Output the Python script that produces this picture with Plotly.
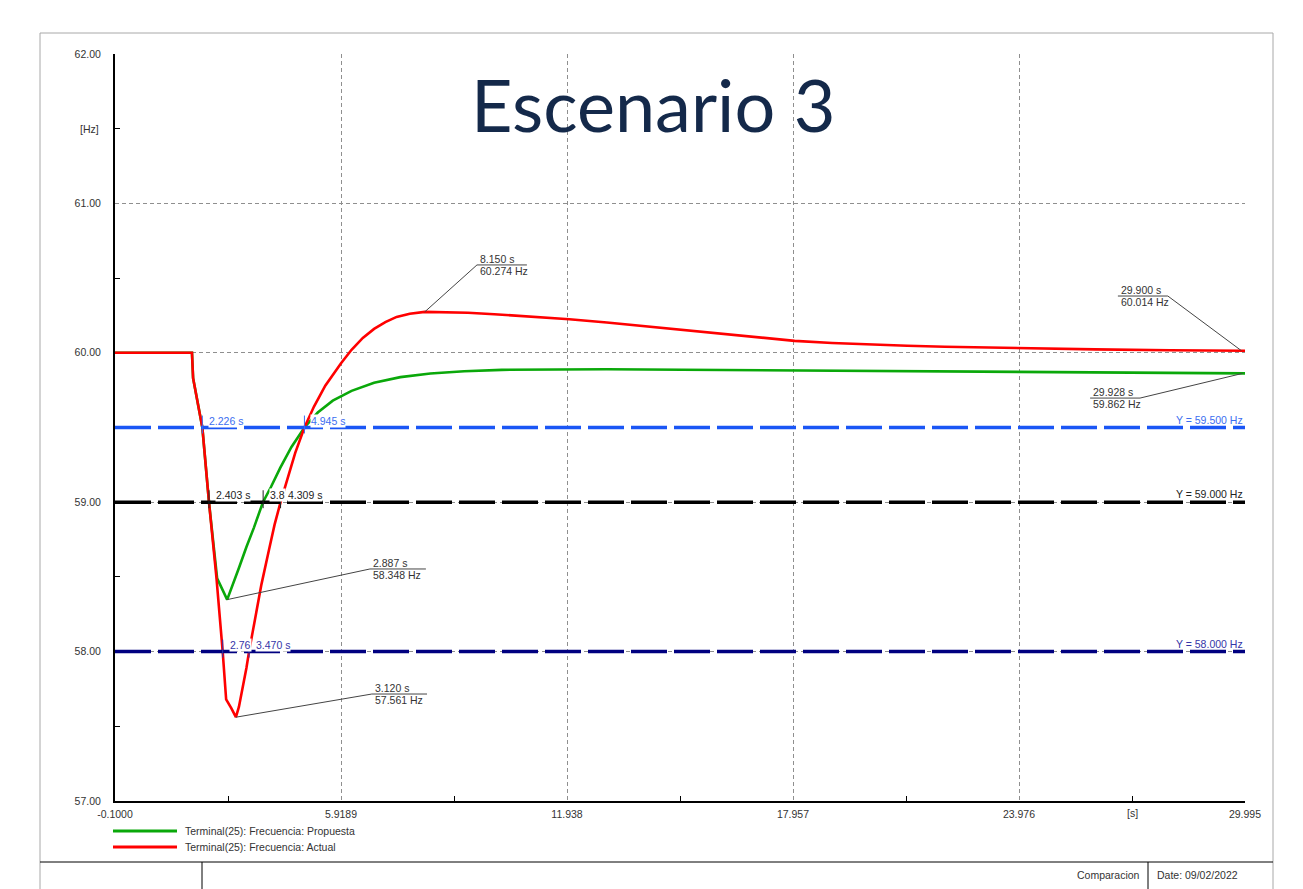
import plotly.graph_objects as go

# ---- series: Terminal(25) frequency [Hz] vs time [s] ----
t_actual = [-0.1, 1.95, 1.98, 2.226, 2.403, 2.6, 2.768, 2.86, 3.0, 3.12, 3.2, 3.3, 3.4, 3.47,
            3.6, 3.8, 4.0, 4.15, 4.309, 4.5, 4.7, 4.945, 5.2, 5.5, 5.92, 6.2, 6.5, 6.8,
            7.1, 7.4, 7.75, 8.15, 8.7, 9.3, 10.0, 11.0, 12.0, 13.0, 14.0, 15.0, 16.0, 17.0,
            18.0, 19.0, 20.0, 21.0, 22.0, 23.0, 24.0, 26.0, 28.0, 29.9, 29.995]
f_actual = [60.0, 60.0, 59.83, 59.5, 59.0, 58.5, 58.0, 57.68, 57.62, 57.561, 57.63, 57.75, 57.89, 58.0,
            58.18, 58.45, 58.68, 58.85, 59.0, 59.17, 59.33, 59.5, 59.64, 59.78, 59.93, 60.02, 60.1, 60.16,
            60.205, 60.24, 60.262, 60.274, 60.273, 60.268, 60.258, 60.244, 60.225, 60.203, 60.178, 60.153, 60.129, 60.103,
            60.08, 60.066, 60.055, 60.047, 60.04, 60.035, 60.031, 60.023, 60.017, 60.014, 60.014]

t_prop = [-0.1, 1.95, 1.98, 2.226, 2.403, 2.55, 2.62, 2.887, 3.0, 3.2, 3.4, 3.6, 3.84, 4.05,
          4.3, 4.6, 4.945, 5.3, 5.7, 6.2, 6.8, 7.5, 8.3, 9.2, 10.2, 11.5, 13.0, 15.0,
          17.0, 19.0, 21.0, 23.0, 25.0, 27.0, 29.0, 29.928, 29.995]
f_prop = [60.0, 60.0, 59.83, 59.5, 59.0, 58.65, 58.49, 58.348, 58.42, 58.56, 58.7, 58.83, 59.0, 59.1,
          59.23, 59.37, 59.5, 59.6, 59.68, 59.745, 59.8, 59.837, 59.862, 59.877, 59.886, 59.89, 59.89, 59.887,
          59.884, 59.88, 59.877, 59.873, 59.87, 59.866, 59.863, 59.862, 59.862]

# ---- axis ticks ----
x_ticks = [-0.1, 5.9189, 11.938, 17.957, 23.976, 29.995]
x_ticktext = ["-0.1000", "5.9189", "11.938", "17.957", "23.976", "29.995"]
x_minor = [2.9095, 8.9285, 14.9475, 20.9665, 26.9855]
y_ticks = [57, 58, 59, 60, 61, 62]
y_ticktext = ["57.00", "58.00", "59.00", "60.00", "61.00", "62.00"]
y_minor = [57.5, 58.5, 59.5, 60.5, 61.5]

# ---- limit lines and their crossing times ----
limits = [59.5, 59.0, 58.0]
limit_labels = ["Y = 59.500 Hz", "Y = 59.000 Hz", "Y = 58.000 Hz"]
limit_colors = ["#1a56f5", "#000000", "#000080"]
limit_text_colors = ["#3b6ef0", "#222222", "#3535a8"]
crossings = [[2.226, 4.945], [2.403, 3.845, 4.309], [2.768, 3.470]]
# characters of each crossing label left visible before the next label covers it
crossing_chars = [[None, None], [None, 3, None], [4, None]]

# ---- extreme-value labels ----
extremes_t = [8.150, 2.887, 3.120, 29.900, 29.928]
extremes_f = [60.274, 58.348, 57.561, 60.014, 59.862]
# label boxes (underline start/end time, underline level)
box_t0 = [9.54, 6.69, 6.74, 26.61, 25.87]
box_t1 = [10.87, 8.18, 8.21, 27.94, 27.20]
box_f = [60.588, 58.553, 57.716, 60.380, 59.697]
leader_from_end = [False, False, False, True, True]

FONT = "Liberation Sans, Arial, sans-serif"
TXT = "#333333"
GRID = "#8f8f8f"

fig = go.Figure()

fig.add_trace(go.Scatter(x=t_prop, y=f_prop, mode="lines",
                         line=dict(color="#0aa80a", width=2.6),
                         name="Terminal(25): Frecuencia: Propuesta", showlegend=False))
fig.add_trace(go.Scatter(x=t_actual, y=f_actual, mode="lines",
                         line=dict(color="#ff0000", width=2.6),
                         name="Terminal(25): Frecuencia: Actual", showlegend=False))

shapes = []
annotations = []

# limit lines
for lv, lab, col, tcol, cr, nch in zip(limits, limit_labels, limit_colors, limit_text_colors,
                                       crossings, crossing_chars):
    shapes.append(dict(type="line", xref="x", yref="y", x0=-0.1, x1=29.995, y0=lv, y1=lv,
                       line=dict(color=col, width=3.5, dash="36px,7px"), layer="above"))
    annotations.append(dict(x=29.995, y=lv, xref="x", yref="y", text=lab, showarrow=False,
                            xanchor="right", yanchor="bottom", yshift=0,
                            font=dict(family=FONT, size=10.5, color=tcol)))
    for tc, n in zip(cr, nch):
        shapes.append(dict(type="line", xref="x", yref="y", x0=tc, x1=tc,
                           y0=lv - 0.04, y1=lv + 0.08, line=dict(color=tcol, width=1)))
        label = f"{tc:.3f} s"
        if n is not None:
            label = label[:n]
        annotations.append(dict(x=tc, y=lv, xref="x", yref="y", text=label,
                                showarrow=False, xanchor="left", yanchor="bottom",
                                xshift=6, yshift=0, bgcolor="white", borderpad=0,
                                font=dict(family=FONT, size=10.5, color=tcol)))

# extreme-value callouts
for te, fe, b0, b1, bf, from_end in zip(extremes_t, extremes_f, box_t0, box_t1, box_f, leader_from_end):
    shapes.append(dict(type="line", xref="x", yref="y", x0=b0, x1=b1, y0=bf, y1=bf,
                       line=dict(color="#444444", width=1)))
    shapes.append(dict(type="line", xref="x", yref="y", x0=b1 if from_end else b0, y0=bf,
                       x1=te, y1=fe, line=dict(color="#444444", width=1)))
    annotations.append(dict(x=b0, y=bf, xref="x", yref="y", text=f"{te:.3f} s", showarrow=False,
                            xanchor="left", yanchor="bottom", xshift=1, yshift=-2,
                            font=dict(family=FONT, size=10.5, color=TXT)))
    annotations.append(dict(x=b0, y=bf, xref="x", yref="y", text=f"{fe:.3f} Hz", showarrow=False,
                            xanchor="left", yanchor="top", xshift=1, yshift=2,
                            font=dict(family=FONT, size=10.5, color=TXT)))


# helpers for placing page furniture in pixel units around the plot area
def px_x(p):
    return (p - 115) / 1130


def px_y(p):
    return (801 - p) / 747


# unit labels on the axes
annotations.append(dict(x=0, y=61.5, xref="paper", yref="y", text="[Hz]", showarrow=False,
                        xanchor="right", xshift=-14, font=dict(family=FONT, size=10.5, color=TXT)))
annotations.append(dict(x=26.9855, y=0, xref="x", yref="paper", text="[s]", showarrow=False,
                        yanchor="top", yshift=-4, font=dict(family=FONT, size=10.5, color=TXT)))

# title
annotations.append(dict(x=px_x(653), y=px_y(104), xref="paper", yref="paper", text="Escenario 3",
                        showarrow=False, xanchor="center", yanchor="middle",
                        font=dict(family="Lato, Open Sans, sans-serif", size=72, color="#14294a")))

# legend
legend_items = [("Terminal(25): Frecuencia: Propuesta", "#0aa80a", 831),
                ("Terminal(25): Frecuencia: Actual", "#ff0000", 847)]
for name, col, yy in legend_items:
    shapes.append(dict(type="line", xref="paper", yref="paper", x0=px_x(113), x1=px_x(177),
                       y0=px_y(yy), y1=px_y(yy), line=dict(color=col, width=3)))
    annotations.append(dict(x=px_x(183), y=px_y(yy), xref="paper", yref="paper", text=name,
                            showarrow=False, xanchor="left", yanchor="middle",
                            font=dict(family=FONT, size=10.5, color=TXT)))

# page frame and footer
frame = "#a8a8a8"
shapes.append(dict(type="rect", xref="paper", yref="paper", x0=px_x(40), x1=px_x(1273),
                   y0=px_y(895), y1=px_y(33), line=dict(color=frame, width=1), layer="below"))
shapes.append(dict(type="line", xref="paper", yref="paper", x0=px_x(40), x1=px_x(1273),
                   y0=px_y(862), y1=px_y(862), line=dict(color="#000000", width=1)))
for xv in (202, 1148):
    shapes.append(dict(type="line", xref="paper", yref="paper", x0=px_x(xv), x1=px_x(xv),
                       y0=px_y(862), y1=px_y(895), line=dict(color="#000000", width=1)))
annotations.append(dict(x=px_x(1142), y=px_y(875), xref="paper", yref="paper", text="Comparacion",
                        showarrow=False, xanchor="right", yanchor="middle",
                        font=dict(family=FONT, size=10.5, color=TXT)))
annotations.append(dict(x=px_x(1155), y=px_y(875), xref="paper", yref="paper", text="Date: 09/02/2022",
                        showarrow=False, xanchor="left", yanchor="middle",
                        font=dict(family=FONT, size=10.5, color=TXT)))

fig.update_layout(
    width=1303, height=889, autosize=False,
    margin=dict(l=115, r=58, t=54, b=88),
    paper_bgcolor="white", plot_bgcolor="white",
    shapes=shapes, annotations=annotations, showlegend=False,
    font=dict(family=FONT, size=10.5, color=TXT),
)
fig.update_xaxes(range=[-0.1, 29.995], tickvals=x_ticks, ticktext=x_ticktext,
                 showgrid=True, gridcolor=GRID, griddash="4px,3px", gridwidth=1,
                 showline=True, linecolor="#000000", linewidth=2, mirror=False,
                 ticks="", zeroline=False, ticklabelstandoff=2,
                 minor=dict(tickvals=x_minor, ticks="inside",
                            ticklen=5, tickcolor="#000000", showgrid=False),
                 tickfont=dict(family=FONT, size=10.5, color=TXT))
fig.update_yaxes(range=[57, 62], tickvals=y_ticks, ticktext=y_ticktext,
                 showgrid=True, gridcolor=GRID, griddash="4px,3px", gridwidth=1,
                 showline=True, linecolor="#000000", linewidth=2, mirror=False,
                 ticks="", zeroline=False, ticklabelstandoff=10,
                 minor=dict(tickvals=y_minor, ticks="inside",
                            ticklen=5, tickcolor="#000000", showgrid=False),
                 tickfont=dict(family=FONT, size=10.5, color=TXT))

fig.write_html("out.html")
